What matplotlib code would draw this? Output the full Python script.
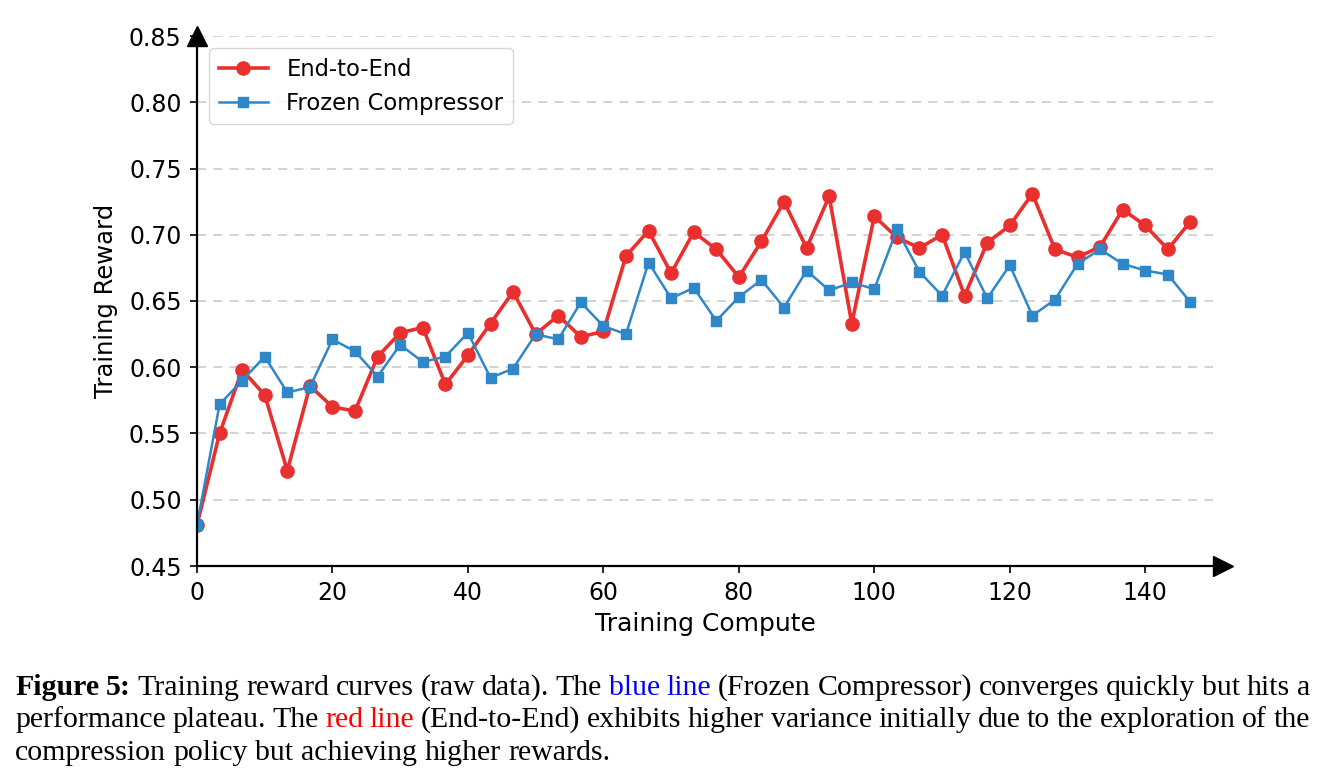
import numpy as np
import matplotlib
matplotlib.use("Agg")
import matplotlib.pyplot as plt

# training compute, one point every 10/3 units
compute = np.arange(45) * 10 / 3

end_to_end = [0.481, 0.550, 0.598, 0.579, 0.522, 0.586, 0.570, 0.567, 0.608, 0.626,
              0.630, 0.587, 0.609, 0.633, 0.657, 0.625, 0.639, 0.623, 0.627, 0.684,
              0.703, 0.671, 0.702, 0.689, 0.668, 0.695, 0.725, 0.690, 0.729, 0.633,
              0.714, 0.698, 0.690, 0.700, 0.654, 0.694, 0.707, 0.731, 0.689, 0.683,
              0.691, 0.719, 0.707, 0.689, 0.710]

frozen = [0.481, 0.572, 0.590, 0.608, 0.581, 0.585, 0.621, 0.612, 0.593, 0.617,
          0.604, 0.608, 0.626, 0.592, 0.599, 0.625, 0.621, 0.649, 0.631, 0.625,
          0.679, 0.652, 0.660, 0.635, 0.653, 0.666, 0.645, 0.673, 0.658, 0.664,
          0.659, 0.704, 0.672, 0.654, 0.687, 0.652, 0.677, 0.639, 0.651, 0.678,
          0.689, 0.678, 0.673, 0.670, 0.649]

yticks = [0.45, 0.50, 0.55, 0.60, 0.65, 0.70, 0.75, 0.80, 0.85]
xticks = [0, 20, 40, 60, 80, 100, 120, 140]

caption = [
    [("Figure 5:", "black", "bold"),
     ("Training reward curves (raw data). The", "black", "normal"),
     ("blue line", "blue", "normal"),
     ("(Frozen Compressor) converges quickly but hits a", "black", "normal")],
    [("performance plateau. The", "black", "normal"),
     ("red line", "red", "normal"),
     ("(End-to-End) exhibits higher variance initially due to the exploration of the", "black", "normal")],
    [("compression policy but achieving higher rewards.", "black", "normal")],
]

W, H = 1326, 783
fig = plt.figure(figsize=(W / 100, H / 100), dpi=100)
ax = fig.add_axes([197 / W, 1 - 566 / H, (1213 - 197) / W, (566 - 36) / H])

ax.plot(compute, end_to_end, color="#ea2f2f", marker="o", ms=9.5, lw=2.6, label="End-to-End")
ax.plot(compute, frozen, color="#2f87c8", marker="s", ms=7.5, lw=1.8, label="Frozen Compressor")

ax.set_xlim(0, 150)
ax.set_ylim(0.45, 0.85)
ax.set_xticks(xticks)
ax.set_yticks(yticks)
ax.set_yticklabels(["%.2f" % v for v in yticks])
ax.tick_params(labelsize=17, width=1.2, length=5, pad=6)
ax.set_xlabel("Training Compute", fontsize=18, labelpad=5)
ax.set_ylabel("Training Reward", fontsize=17.5, labelpad=8)

ax.grid(axis="y", linestyle=(0, (5, 4)), color="#d0d0d0", lw=1.3)
ax.set_axisbelow(True)
for s in ["top", "right"]:
    ax.spines[s].set_visible(False)
for s in ["left", "bottom"]:
    ax.spines[s].set_linewidth(1.6)

# arrow heads on the axes (x arrow sits just past the spine end)
ax.plot(1.0 + 9.5 / 1016, 0, ">k", ms=14, transform=ax.transAxes, clip_on=False)
ax.plot(0, 1.0, "^k", ms=14, transform=ax.transAxes, clip_on=False)

ax.legend(loc="upper left", fontsize=16.3, frameon=True, edgecolor="#cccccc",
          bbox_to_anchor=(0.0, 1.0), borderaxespad=0.55, handlelength=2.2)

# caption, justified like the paper text
renderer = fig.canvas.get_renderer()
left, right = 15, 1310
baselines = [695, 727, 760]
fs = 21.5
space = fs * 100 / 72 * 0.25
for li, line in enumerate(caption):
    words = []
    for text, col, wt in line:
        for w in text.split(" "):
            t = fig.text(0, 0, w, fontsize=fs, family="Liberation Serif",
                         color=col, weight=wt, va="baseline")
            words.append((t, t.get_window_extent(renderer).width))
    total = sum(w for _, w in words)
    if li < len(caption) - 1:
        gap = (right - left - total) / (len(words) - 1)
    else:
        gap = space
    x = left
    for t, w in words:
        t.set_position((x / W, 1 - baselines[li] / H))
        x += w + gap

fig.savefig("out.png", dpi=100)
